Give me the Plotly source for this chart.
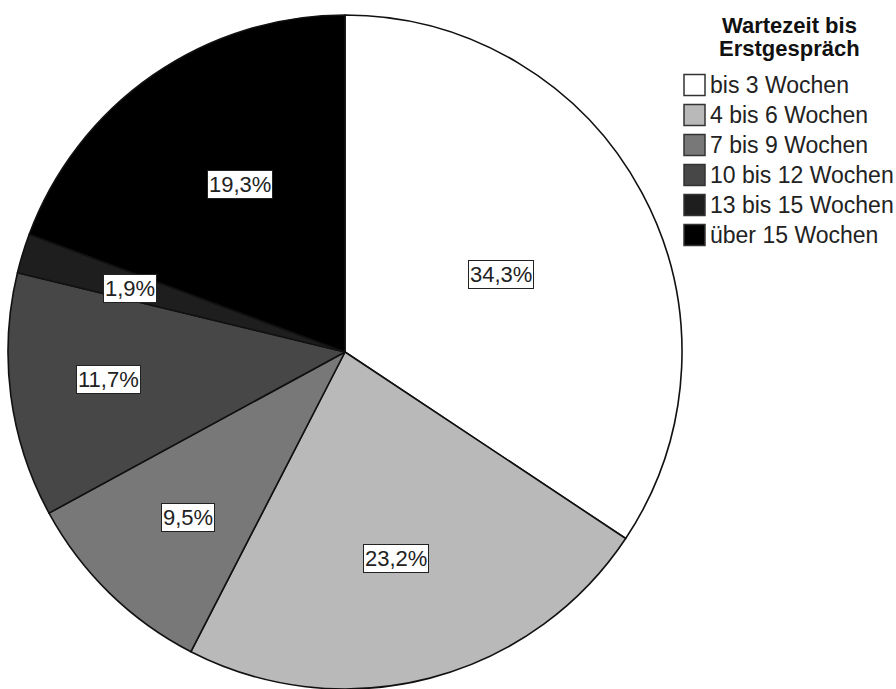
import math
import plotly.graph_objects as go

categories = ["bis 3 Wochen", "4 bis 6 Wochen", "7 bis 9 Wochen",
              "10 bis 12 Wochen", "13 bis 15 Wochen", "über 15 Wochen"]
values = [34.3, 23.2, 9.5, 11.7, 1.9, 19.3]
value_labels = ["34,3%", "23,2%", "9,5%", "11,7%", "1,9%", "19,3%"]
legend_title = ["Wartezeit bis", "Erstgespräch"]

# styles
colors = ["#ffffff", "#b9b9b9", "#787878", "#474747", "#1e1e1e", "#000000"]
label_radius = [0.516, 0.63, 0.677, 0.706, 0.665, 0.587]
label_angle_shift = [1.9, 0.8, -1.0, 0.9, -0.5, 2.6]  # degrees

W, H = 896, 689
CX, CY, R = 345, 352, 337  # pixel geometry of the pie domain
FONT = "Liberation Sans, Arial"

fig = go.Figure()
fig.add_trace(go.Pie(
    labels=categories, values=values, sort=False, direction="clockwise",
    rotation=0, marker=dict(colors=colors, line=dict(color="#111111", width=1.6)),
    textinfo="none", hoverinfo="label+percent", showlegend=False,
    domain=dict(x=[(CX - R) / W, (CX + R) / W], y=[(H - CY - R) / H, (H - CY + R) / H]),
))

annotations = []
total = sum(values)
cum = 0.0
for v, lab, rf, sh in zip(values, value_labels, label_radius, label_angle_shift):
    mid = (cum + v / 2) / total * 2 * math.pi + math.radians(sh)
    cum += v
    px = CX + rf * R * math.sin(mid)
    py = CY - rf * R * math.cos(mid)
    annotations.append(dict(
        x=px / W, y=1 - py / H, xref="paper", yref="paper", text=lab,
        showarrow=False, font=dict(family=FONT, size=22, color="#222222"),
        bgcolor="white", bordercolor="#222222", borderwidth=1, borderpad=1,
        xanchor="center", yanchor="middle"))

# legend title
for i, t in enumerate(legend_title):
    annotations.append(dict(
        x=789 / W, y=1 - (25 + 23 * i) / H, xref="paper", yref="paper",
        text="<b>%s</b>" % t, showarrow=False,
        font=dict(family=FONT, size=22, color="#111111"),
        xanchor="center", yanchor="middle"))

shapes = []
for i, (c, name) in enumerate(zip(colors, categories)):
    yc = 85 + 30 * i
    shapes.append(dict(type="rect", xref="paper", yref="paper",
                       x0=684 / W, x1=705 / W, y0=1 - (yc - 10.5) / H, y1=1 - (yc + 10.5) / H,
                       fillcolor=c, line=dict(color="#333333", width=1.5)))
    annotations.append(dict(
        x=708 / W, y=1 - yc / H, xref="paper", yref="paper", text=name,
        showarrow=False, font=dict(family=FONT, size=23, color="#222222"),
        xanchor="left", yanchor="middle"))

fig.update_layout(
    width=W, height=H, margin=dict(l=0, r=0, t=0, b=0),
    paper_bgcolor="white", plot_bgcolor="white",
    annotations=annotations, shapes=shapes, showlegend=False,
)
fig.write_html("out.html")
